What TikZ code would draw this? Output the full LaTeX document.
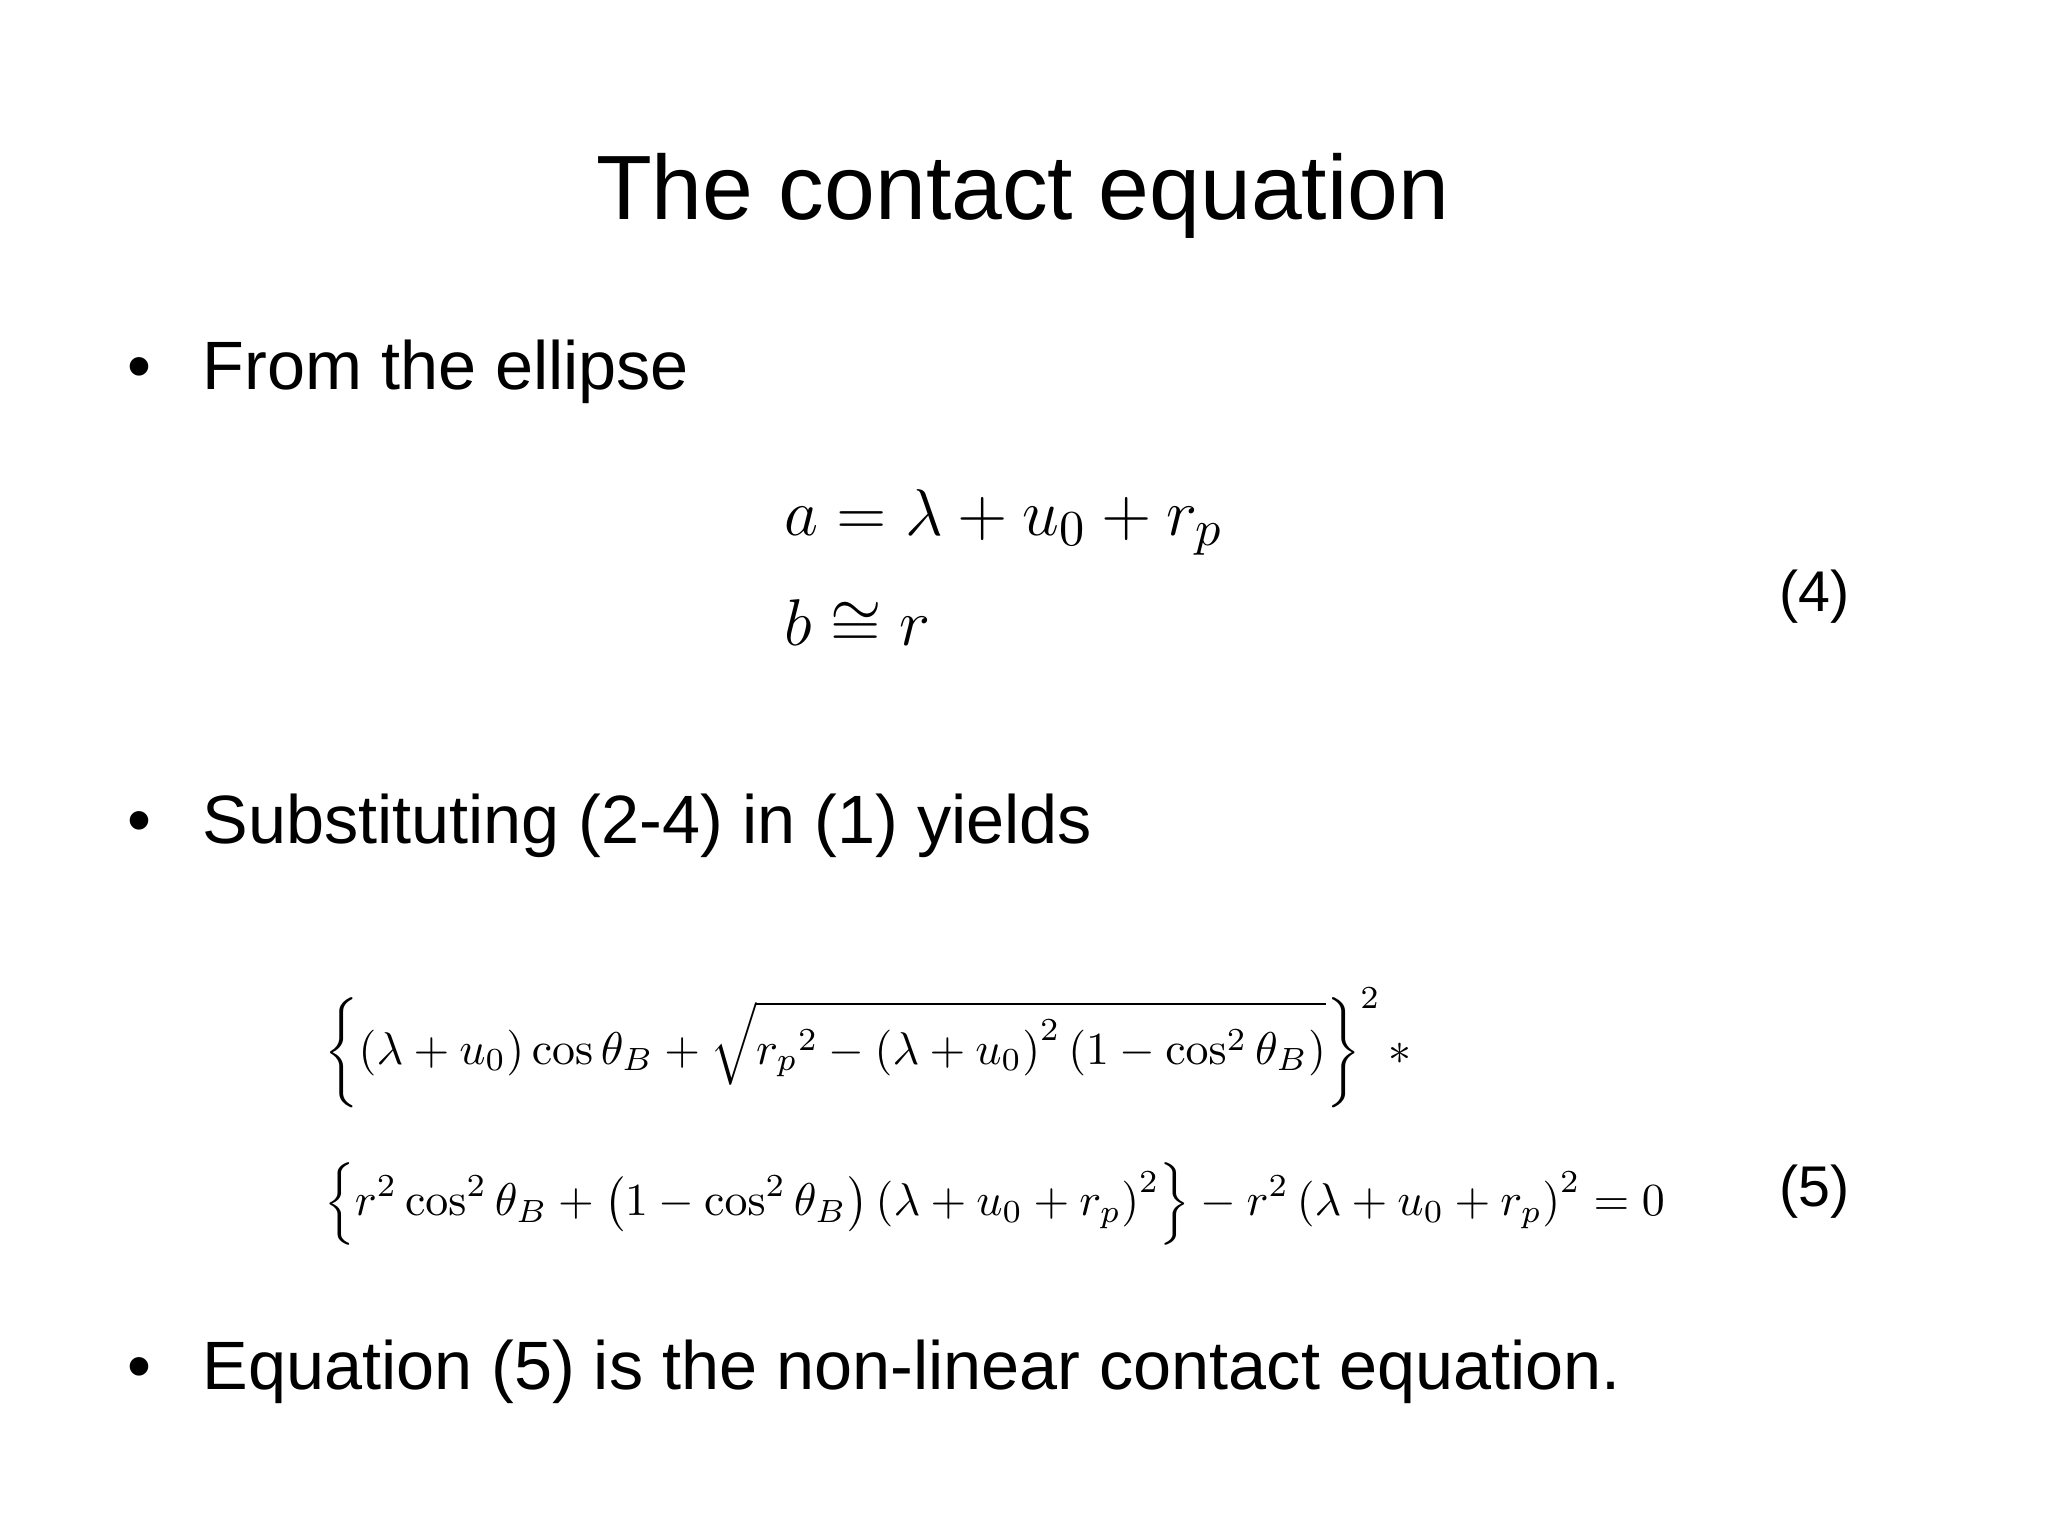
\documentclass[tikz,border=0pt]{standalone}
\usepackage{amsmath,amssymb}
\usepackage[no-math]{fontspec}
\setmainfont{Liberation Sans}
\begin{document}
\begin{tikzpicture}[x=1cm,y=-1cm,
  bul/.style={anchor=west,font=\fontsize{14.9}{18}\selectfont}]
\useasboundingbox (0,0) rectangle (15.68,11.76);
\node (title) at (7.83,1.5) {\fontsize{19.9}{24}\selectfont The contact equation};
\node[bul] (b1) at (0.85,2.85) {\textbullet\hspace{0.75em}From the ellipse};
\node[anchor=west] (e4) at (5.88,4.38) {\fontsize{15.2}{20}\selectfont $\begin{aligned} &a=\lambda+u_0+r_p\\[1pt] &b\cong r\end{aligned}$};
\node[bul] (n4) at (13.5,4.57) {\fontsize{12.5}{16}\selectfont (4)};
\node[bul] (b2) at (0.85,6.32) {\textbullet\hspace{0.75em}Substituting (2-4) in (1) yields};
\node[anchor=west] (e5) at (2.3,8.55) {\fontsize{10}{13}\selectfont $\begin{aligned}
&\left\{\left(\lambda+u_0\right)\cos\theta_B+\sqrt{{r_p}^2-\left(\lambda+u_0\right)^2\left(1-\cos^2\theta_B\right)}\right\}^2 *\\[8pt]
&\left\{r^2\cos^2\theta_B+\left(1-\cos^2\theta_B\right)\left(\lambda+u_0+r_p\right)^2\right\}-r^2\left(\lambda+u_0+r_p\right)^2=0
\end{aligned}$};
\node[bul] (n5) at (13.5,9.12) {\fontsize{12.5}{16}\selectfont (5)};
\node[bul] (b3) at (0.85,10.5) {\textbullet\hspace{0.75em}Equation (5) is the non-linear contact equation.};
\end{tikzpicture}
\end{document}
